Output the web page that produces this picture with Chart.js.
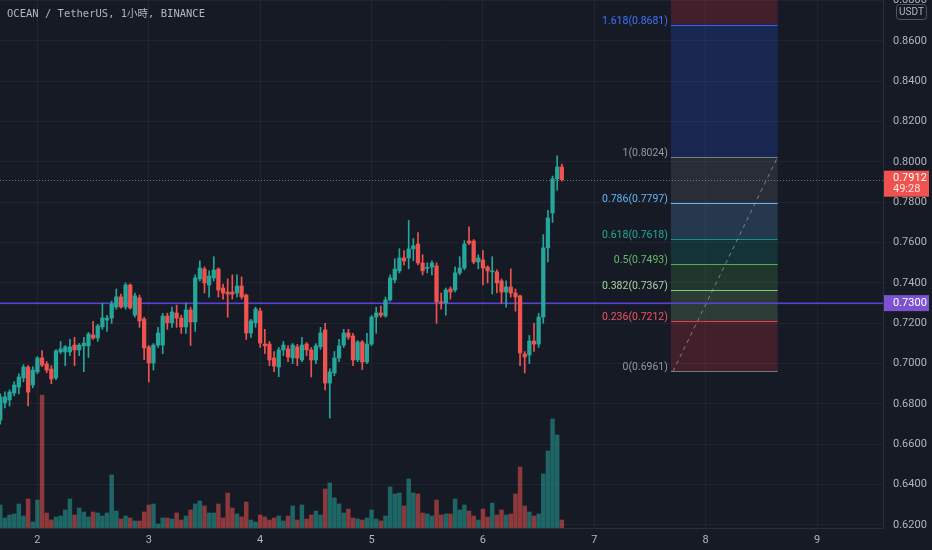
<!DOCTYPE html>
<html>
<head>
<meta charset="utf-8">
<script src="https://cdn.jsdelivr.net/npm/chart.js@4.4.0/dist/chart.umd.min.js"></script>
<style>
  html, body { margin: 0; padding: 0; background: #161a25; }
  #wrap { width: 932px; height: 550px; }
</style>
</head>
<body>
<div id="wrap"><canvas id="chart"></canvas></div>
<script>
// hourly candles, first one at day 1 16:00
const firstHour = 16;

const opens = [
  0.6720, 0.6805, 0.6820, 0.6854, 0.6884, 0.6929, 0.6983, 0.6894, 0.6959, 0.7028,
  0.6998, 0.6973, 0.6929, 0.7058, 0.7058, 0.7058, 0.7092, 0.7068, 0.7088, 0.7088,
  0.7142, 0.7127, 0.7182, 0.7216, 0.7226, 0.7281, 0.7331, 0.7281, 0.7390, 0.7241,
  0.7326, 0.7221, 0.7083, 0.7003, 0.7092, 0.7092, 0.7236, 0.7202, 0.7251, 0.7226,
  0.7182, 0.7266, 0.7207, 0.7420, 0.7469, 0.7390, 0.7425, 0.7469, 0.7375, 0.7355,
  0.7355, 0.7350, 0.7385, 0.7340, 0.7152, 0.7202, 0.7261, 0.7097, 0.7097, 0.7028,
  0.6983, 0.7068, 0.7073, 0.7028, 0.7083, 0.7018, 0.7097, 0.7068, 0.7018, 0.7083,
  0.7167, 0.6904, 0.6954, 0.7028, 0.7092, 0.7152, 0.7137, 0.7018, 0.7107, 0.7008,
  0.7097, 0.7231, 0.7251, 0.7236, 0.7316, 0.7415, 0.7460, 0.7524, 0.7524, 0.7569,
  0.7593, 0.7499, 0.7472, 0.7479, 0.7484, 0.7306, 0.7301, 0.7370, 0.7365, 0.7450,
  0.7474, 0.7608, 0.7608, 0.7504, 0.7514, 0.7479, 0.7455, 0.7455, 0.7410, 0.7355,
  0.7380, 0.7350, 0.7336, 0.7048, 0.7043, 0.7112, 0.7097, 0.7231, 0.7574, 0.7747,
  0.7916, 0.7975
];
const highs = [
  0.6850, 0.6860, 0.6870, 0.6910, 0.6950, 0.6995, 0.6990, 0.6985, 0.7035, 0.7065,
  0.7010, 0.6990, 0.7070, 0.7110, 0.7090, 0.7120, 0.7130, 0.7100, 0.7130, 0.7155,
  0.7210, 0.7195, 0.7300, 0.7240, 0.7310, 0.7370, 0.7345, 0.7400, 0.7395, 0.7350,
  0.7340, 0.7230, 0.7090, 0.7100, 0.7180, 0.7250, 0.7250, 0.7280, 0.7290, 0.7240,
  0.7300, 0.7280, 0.7440, 0.7510, 0.7480, 0.7460, 0.7530, 0.7475, 0.7395, 0.7420,
  0.7440, 0.7440, 0.7430, 0.7345, 0.7220, 0.7280, 0.7275, 0.7170, 0.7110, 0.7060,
  0.7080, 0.7110, 0.7090, 0.7100, 0.7095, 0.7130, 0.7105, 0.7080, 0.7100, 0.7180,
  0.7200, 0.6975, 0.7060, 0.7120, 0.7170, 0.7170, 0.7150, 0.7115, 0.7115, 0.7150,
  0.7240, 0.7280, 0.7285, 0.7330, 0.7440, 0.7520, 0.7570, 0.7560, 0.7710, 0.7620,
  0.7650, 0.7540, 0.7500, 0.7510, 0.7500, 0.7350, 0.7375, 0.7380, 0.7480, 0.7530,
  0.7610, 0.7678, 0.7615, 0.7540, 0.7560, 0.7485, 0.7530, 0.7465, 0.7420, 0.7410,
  0.7470, 0.7370, 0.7340, 0.7060, 0.7140, 0.7200, 0.7250, 0.7640, 0.7760, 0.7930,
  0.8030, 0.7990
];
const lows = [
  0.6700, 0.6780, 0.6790, 0.6840, 0.6850, 0.6910, 0.6790, 0.6880, 0.6950, 0.6985,
  0.6955, 0.6900, 0.6920, 0.7050, 0.6990, 0.7040, 0.6990, 0.7040, 0.6960, 0.7030,
  0.7120, 0.7110, 0.7170, 0.7160, 0.7200, 0.7270, 0.7275, 0.7270, 0.7270, 0.7230,
  0.7180, 0.7020, 0.6909, 0.6968, 0.7080, 0.7050, 0.7170, 0.7180, 0.7180, 0.7150,
  0.7150, 0.7090, 0.7160, 0.7410, 0.7350, 0.7330, 0.7410, 0.7330, 0.7320, 0.7230,
  0.7320, 0.7330, 0.7320, 0.7120, 0.7130, 0.7180, 0.7080, 0.7050, 0.6990, 0.6960,
  0.6935, 0.7040, 0.7010, 0.7000, 0.6990, 0.7010, 0.7040, 0.6934, 0.7000, 0.7070,
  0.6870, 0.6730, 0.6940, 0.7010, 0.7080, 0.7120, 0.6990, 0.7010, 0.6970, 0.7000,
  0.7090, 0.7150, 0.7230, 0.7230, 0.7310, 0.7400, 0.7450, 0.7490, 0.7470, 0.7510,
  0.7490, 0.7440, 0.7450, 0.7440, 0.7200, 0.7270, 0.7240, 0.7320, 0.7355, 0.7440,
  0.7465, 0.7590, 0.7495, 0.7470, 0.7390, 0.7400, 0.7345, 0.7350, 0.7300, 0.7280,
  0.7330, 0.7260, 0.6990, 0.6954, 0.7000, 0.7060, 0.7080, 0.7200, 0.7504, 0.7700,
  0.7860, 0.7905
];
const closes = [
  0.6835, 0.6835, 0.6859, 0.6894, 0.6934, 0.6983, 0.6859, 0.6968, 0.7028, 0.6993,
  0.6968, 0.6924, 0.7063, 0.7073, 0.7083, 0.7083, 0.7068, 0.7092, 0.7102, 0.7147,
  0.7127, 0.7187, 0.7226, 0.7226, 0.7296, 0.7331, 0.7281, 0.7390, 0.7276, 0.7336,
  0.7212, 0.7078, 0.7003, 0.7092, 0.7152, 0.7236, 0.7202, 0.7256, 0.7226, 0.7182,
  0.7266, 0.7207, 0.7425, 0.7474, 0.7400, 0.7435, 0.7464, 0.7365, 0.7350, 0.7345,
  0.7345, 0.7385, 0.7331, 0.7152, 0.7212, 0.7271, 0.7102, 0.7088, 0.7018, 0.6988,
  0.7068, 0.7092, 0.7033, 0.7092, 0.7028, 0.7092, 0.7068, 0.7018, 0.7088, 0.7152,
  0.6904, 0.6959, 0.7028, 0.7088, 0.7152, 0.7132, 0.7018, 0.7107, 0.7008, 0.7097,
  0.7231, 0.7251, 0.7241, 0.7316, 0.7425, 0.7469, 0.7524, 0.7509, 0.7569, 0.7584,
  0.7499, 0.7460, 0.7476, 0.7499, 0.7306, 0.7301, 0.7365, 0.7355, 0.7450, 0.7474,
  0.7593, 0.7598, 0.7504, 0.7524, 0.7474, 0.7460, 0.7460, 0.7400, 0.7355, 0.7380,
  0.7350, 0.7331, 0.7053, 0.7033, 0.7112, 0.7097, 0.7231, 0.7574, 0.7722, 0.7916,
  0.7975, 0.7912
];
// volume in K
const volumes = [
  23, 10, 13, 14, 24, 12, 29, 6, 28, 133,
  15, 8, 11, 12, 18, 29, 13, 20, 16, 11,
  16, 15, 12, 15, 53, 17, 9, 12, 10, 7,
  7, 16, 23, 24, 4, 10, 10, 9, 15, 8,
  12, 18, 24, 27, 22, 15, 15, 24, 10, 35,
  20, 14, 11, 26, 8, 6, 13, 11, 8, 10,
  12, 7, 12, 22, 8, 23, 9, 13, 17, 13,
  39, 45, 30, 24, 15, 19, 10, 9, 8, 10,
  18, 9, 7, 12, 41, 34, 35, 22, 49, 35,
  34, 15, 14, 12, 28, 13, 14, 14, 29, 18,
  23, 17, 12, 8, 19, 11, 25, 13, 18, 13,
  14, 34, 61, 22, 16, 12, 14, 54, 77, 109,
  93, 8
];

const priceTicks = [0.62, 0.64, 0.66, 0.68, 0.70, 0.72, 0.74, 0.76, 0.78, 0.80, 0.82, 0.84, 0.86, 0.88];
const dayTicks = [2, 3, 4, 5, 6, 7, 8, 9];

// fibonacci retracement drawn on the right
const fibLevels = [0, 0.236, 0.382, 0.5, 0.618, 0.786, 1, 1.618];
const fibPrices = [0.6961, 0.7212, 0.7367, 0.7493, 0.7618, 0.7797, 0.8024, 0.8681];
const fibColors = ["#787b86", "#f23645", "#81c784", "#4caf50", "#089981", "#64b5f6", "#787b86", "#2962ff"];
const fibTextColors = ["#9598a1", "#f7525f", "#a5d6a7", "#66bb6a", "#22ab94", "#64b5f6", "#9598a1", "#3d74ff"];
const fibTopColor = "#f23645";
const fibFrom = 160.5, fibTo = 183.5;   // hours

const lastPrice = 0.7912;
const countdown = "49:28";
const alertPrice = 0.7300;

const viewMin = 15.94, viewMax = 206.2;       // hours
const priceMin = 0.6185, priceMax = 0.8803;
const volMax = 528;

const upColor = "#26a69a";
const downColor = "#ef5350";
const gridColor = "rgba(42, 46, 57, 0.55)";
const textColor = "#b2b5be";

const hours = opens.map((_, i) => firstHour + i);
const candleColors = closes.map((c, i) => (c >= opens[i] ? upColor : downColor));
const volColors = closes.map((c, i) => (c >= opens[i] ? "rgba(38, 166, 154, 0.55)" : "rgba(239, 83, 80, 0.55)"));

function hexA(hex, a) {
  const n = parseInt(hex.slice(1), 16);
  return `rgba(${(n >> 16) & 255}, ${(n >> 8) & 255}, ${n & 255}, ${a})`;
}

const overlay = {
  id: "overlay",
  beforeDraw(chart) {
    const { ctx, width, height } = chart;
    ctx.save();
    ctx.fillStyle = "#161a25";
    ctx.fillRect(0, 0, width, height);
    ctx.restore();
  },
  beforeDatasetsDraw(chart) {
    const { ctx, chartArea: a, scales } = chart;
    const x = scales.x, y = scales.y;
    const x0 = x.getPixelForValue(fibFrom), x1 = x.getPixelForValue(fibTo);
    ctx.save();
    ctx.beginPath();
    ctx.rect(a.left, a.top, a.right - a.left, a.bottom - a.top);
    ctx.clip();

    // zones
    for (let k = 0; k < fibPrices.length - 1; k++) {
      const yb = y.getPixelForValue(fibPrices[k]);
      const yt = y.getPixelForValue(fibPrices[k + 1]);
      ctx.fillStyle = hexA(fibColors[k + 1], 0.2);
      ctx.fillRect(x0, yt, x1 - x0, yb - yt);
    }
    const yTop = y.getPixelForValue(fibPrices[fibPrices.length - 1]);
    ctx.fillStyle = hexA(fibTopColor, 0.2);
    ctx.fillRect(x0, a.top, x1 - x0, yTop - a.top);

    // level lines and labels
    ctx.font = "10.5px Roboto";
    ctx.textAlign = "right";
    ctx.textBaseline = "bottom";
    fibPrices.forEach((p, k) => {
      const py = Math.round(y.getPixelForValue(p)) + 0.5;
      ctx.strokeStyle = fibColors[k];
      ctx.lineWidth = 1;
      ctx.beginPath();
      ctx.moveTo(x0, py);
      ctx.lineTo(x1, py);
      ctx.stroke();
      ctx.fillStyle = fibTextColors[k];
      ctx.fillText(`${fibLevels[k]}(${p.toFixed(4)})`, x0 - 3, py + 1);
    });

    // trend line of the tool
    ctx.setLineDash([4, 4]);
    ctx.strokeStyle = "rgba(178, 181, 190, 0.6)";
    ctx.beginPath();
    ctx.moveTo(x0 + 2, y.getPixelForValue(fibPrices[0]));
    ctx.lineTo(x1, y.getPixelForValue(fibPrices[6]));
    ctx.stroke();

    // alert line
    ctx.setLineDash([]);
    const ya = Math.round(y.getPixelForValue(alertPrice));
    ctx.fillStyle = "rgba(92, 70, 220, 0.95)";
    ctx.fillRect(a.left, ya - 0.5, a.right - a.left, 1.6);

    // last price line
    const yl = Math.round(y.getPixelForValue(lastPrice)) + 0.5;
    ctx.lineWidth = 1;
    ctx.setLineDash([1, 2]);
    ctx.strokeStyle = "rgba(200, 200, 200, 0.5)";
    ctx.beginPath();
    ctx.moveTo(a.left, yl);
    ctx.lineTo(a.right, yl);
    ctx.stroke();
    ctx.restore();
  },
  afterDraw(chart) {
    const { ctx, chartArea: a, scales } = chart;
    const y = scales.y;
    ctx.save();
    const bx = a.right + 1, bw = 45;

    // last price badge
    const yl = y.getPixelForValue(lastPrice);
    ctx.fillStyle = "#ef5350";
    ctx.fillRect(bx, yl - 9, bw, 26);
    ctx.font = "11px Roboto";
    ctx.textAlign = "left";
    ctx.textBaseline = "middle";
    ctx.fillStyle = "#ffffff";
    ctx.fillText(lastPrice.toFixed(4), bx + 9, yl - 1);
    ctx.fillStyle = "rgba(255, 255, 255, 0.85)";
    ctx.fillText(countdown, bx + 9, yl + 10);

    // alert badge
    const ya = y.getPixelForValue(alertPrice);
    ctx.fillStyle = "#7b52d0";
    ctx.fillRect(bx, ya - 8, bw, 16);
    ctx.fillStyle = "#ffffff";
    ctx.fillText(alertPrice.toFixed(4), bx + 9, ya);

    // currency tag
    ctx.fillStyle = "#161a25";
    ctx.strokeStyle = "rgba(120, 123, 134, 0.6)";
    ctx.lineWidth = 1;
    ctx.beginPath();
    ctx.roundRect(896.5, 4.5, 30, 15, 3);
    ctx.fill();
    ctx.stroke();
    ctx.fillStyle = textColor;
    ctx.font = "10px Roboto";
    ctx.textAlign = "center";
    ctx.fillText("USDT", 911.5, 12.5);

    // title
    ctx.font = "10.5px 'DejaVu Sans Mono', 'Noto Sans CJK TC'";
    ctx.textAlign = "left";
    ctx.fillStyle = textColor;
    ctx.fillText("OCEAN / TetherUS, 1小時, BINANCE", 7, 14);
    ctx.restore();
  }
};

Chart.defaults.font.family = "Roboto";
Chart.defaults.font.size = 11;
Chart.defaults.color = textColor;

new Chart(document.getElementById("chart"), {
  type: "bar",
  data: {
    datasets: [
      {
        label: "Volume",
        data: hours.map((h, i) => ({ x: h, y: volumes[i] })),
        backgroundColor: volColors,
        yAxisID: "vol",
        barThickness: 3.8,
        grouped: false,
        order: 3
      },
      {
        label: "Wick",
        data: hours.map((h, i) => ({ x: h, y: [lows[i], highs[i]] })),
        backgroundColor: candleColors,
        yAxisID: "y",
        barThickness: 1,
        grouped: false,
        order: 2
      },
      {
        label: "Body",
        data: hours.map((h, i) => ({ x: h, y: [opens[i], closes[i]] })),
        backgroundColor: candleColors,
        yAxisID: "y",
        barThickness: 3.6,
        minBarLength: 1,
        grouped: false,
        order: 1
      }
    ]
  },
  options: {
    responsive: true,
    maintainAspectRatio: false,
    animation: false,
    layout: { padding: 0 },
    plugins: { legend: { display: false }, tooltip: { enabled: false } },
    scales: {
      x: {
        type: "linear",
        min: viewMin,
        max: viewMax,
        offset: false,
        grid: { color: gridColor, drawTicks: false, offset: false },
        border: { color: "#2a2e39" },
        ticks: {
          padding: 6,
          maxRotation: 0,
          autoSkip: false,
          callback: (v) => v / 24 + 1
        },
        afterBuildTicks: (s) => { s.ticks = dayTicks.map((d) => ({ value: (d - 1) * 24 })); },
        afterFit: (s) => { s.height = 22; s.paddingLeft = 0; s.paddingRight = 0; }
      },
      y: {
        position: "right",
        min: priceMin,
        max: priceMax,
        grid: { color: gridColor, drawTicks: false },
        border: { color: "#2a2e39" },
        ticks: { padding: 10, callback: (v) => v.toFixed(4) },
        afterBuildTicks: (s) => { s.ticks = priceTicks.map((v) => ({ value: v })); },
        afterFit: (s) => { s.width = 49; s.paddingTop = 0; s.paddingBottom = 0; }
      },
      vol: {
        display: false,
        min: 0,
        max: volMax
      }
    }
  },
  plugins: [overlay]
});
</script>
</body>
</html>
